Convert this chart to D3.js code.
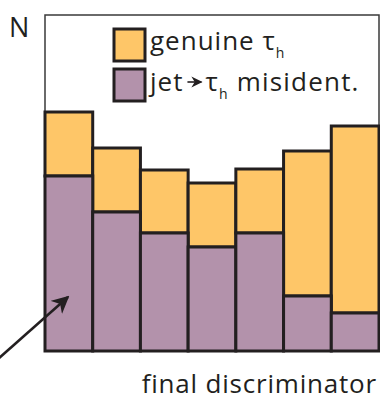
<!DOCTYPE html>
<html>
<head>
<meta charset="utf-8">
<script src="https://cdn.jsdelivr.net/npm/d3@7"></script>
<style>
  body { margin: 0; background: #fff; }
  text { font-family: "Open Sans", sans-serif; fill: #231f20; }
</style>
</head>
<body>
<div class="chart"></div>
<script>
// data (arbitrary N units)
var bins = [1, 2, 3, 4, 5, 6, 7];
var misident = [175, 139, 118, 104, 118, 55, 38];
var genuine = [64, 64, 63, 64, 64, 145, 187];

var svgWidth = 380, svgHeight = 400;
var margin = {top: 15, right: 1, bottom: 49, left: 45};
var width = svgWidth - margin.left - margin.right;
var height = svgHeight - margin.top - margin.bottom;

var yellow = '#fec668', purple = '#b392ab', ink = '#231f20';

var svg = d3.select('.chart').append('svg')
    .attr('width', svgWidth)
    .attr('height', svgHeight);

var defs = svg.append('defs');
defs.append('marker')
    .attr('id', 'arrow')
    .attr('viewBox', '0 0 10 10')
    .attr('refX', 9).attr('refY', 5)
    .attr('markerWidth', 7).attr('markerHeight', 7)
    .attr('markerUnits', 'strokeWidth')
    .attr('orient', 'auto')
    .append('path')
    .attr('d', 'M0,0 L10,5 L0,10 L3,5 Z')
    .attr('fill', ink);

var chart = svg.append('g')
    .attr('transform', 'translate(' + margin.left + ',' + margin.top + ')');

var x = d3.scaleLinear().domain([0, bins.length]).range([0, width]);
var y = d3.scaleLinear().domain([0, 336]).range([height, 0]);

var data = bins.map(function(b, i) {
    return {bin: i, mis: misident[i], gen: genuine[i]};
});

// frame
chart.append('rect')
    .attr('x', 0).attr('y', 0)
    .attr('width', width).attr('height', height)
    .attr('fill', 'none')
    .attr('stroke', '#3a3a3a')
    .attr('stroke-width', 1.5);

// genuine (stacked on top)
chart.selectAll('.gen')
    .data(data)
    .enter()
    .append('rect')
    .attr('class', 'gen')
    .attr('x', function(d) { return x(d.bin); })
    .attr('width', function(d) { return x(d.bin + 1) - x(d.bin); })
    .attr('y', function(d) { return y(d.mis + d.gen); })
    .attr('height', function(d) { return y(d.mis) - y(d.mis + d.gen); })
    .attr('fill', yellow)
    .attr('stroke', ink)
    .attr('stroke-width', 3);

// misidentified (bottom)
chart.selectAll('.mis')
    .data(data)
    .enter()
    .append('rect')
    .attr('class', 'mis')
    .attr('x', function(d) { return x(d.bin); })
    .attr('width', function(d) { return x(d.bin + 1) - x(d.bin); })
    .attr('y', function(d) { return y(d.mis); })
    .attr('height', function(d) { return height - y(d.mis); })
    .attr('fill', purple)
    .attr('stroke', ink)
    .attr('stroke-width', 3);

// legend
var legend = chart.append('g').attr('transform', 'translate(69,14)');
var rows = legend.selectAll('.row')
    .data([yellow, purple])
    .enter()
    .append('g')
    .attr('class', 'row')
    .attr('transform', function(d, i) { return 'translate(0,' + (i * 40) + ')'; });
rows.append('rect')
    .attr('width', 31).attr('height', 32)
    .attr('fill', function(d) { return d; })
    .attr('stroke', ink)
    .attr('stroke-width', 3);

var row1 = d3.select(rows.nodes()[0]);
var t1 = row1.append('text')
    .attr('x', 36).attr('y', 21)
    .attr('font-size', '26px')
    .attr('letter-spacing', '1px');
t1.append('tspan').text('genuine \u03c4');
t1.append('tspan').attr('font-size', '14px').attr('dy', 8).text('h');

var row2 = d3.select(rows.nodes()[1]);
var jet = row2.append('text')
    .attr('x', 36).attr('y', 22)
    .attr('font-size', '26px')
    .attr('letter-spacing', '1px')
    .text('jet');
var ax = 36 + jet.node().getComputedTextLength() + 4;
row2.append('line')
    .attr('x1', ax).attr('y1', 13)
    .attr('x2', ax + 14).attr('y2', 13)
    .attr('stroke', ink)
    .attr('stroke-width', 1.6)
    .attr('marker-end', 'url(#arrow)');
var t2 = row2.append('text')
    .attr('x', ax + 18).attr('y', 22)
    .attr('font-size', '26px')
    .attr('letter-spacing', '1.2px');
t2.append('tspan').text('\u03c4');
t2.append('tspan').attr('font-size', '14px').attr('dy', 8).text('h');
t2.append('tspan').attr('dy', -8).text(' misident.');

// y label
svg.append('text')
    .attr('x', 9).attr('y', 37)
    .attr('font-size', '27px')
    .text('N');

// x label
svg.append('text')
    .attr('x', 377).attr('y', 393)
    .attr('text-anchor', 'end')
    .attr('font-size', '26px')
    .attr('letter-spacing', '0.8px')
    .text('final discriminator');

// arrow pointing into first bin
svg.append('line')
    .attr('x1', -2).attr('y1', 359)
    .attr('x2', 68).attr('y2', 297)
    .attr('stroke', ink)
    .attr('stroke-width', 2.5)
    .attr('marker-end', 'url(#arrow)');
</script>
</body>
</html>
